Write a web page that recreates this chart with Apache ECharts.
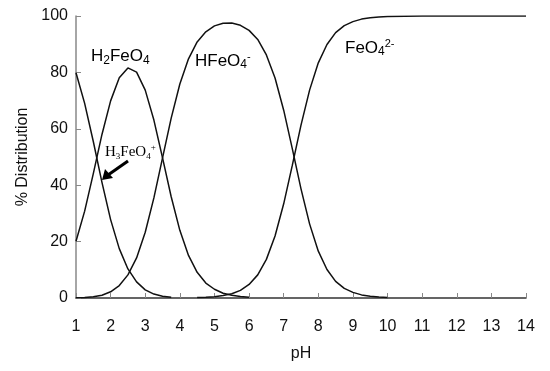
<!DOCTYPE html>
<html>
<head>
<meta charset="utf-8">
<script src="https://cdn.jsdelivr.net/npm/echarts@6/dist/echarts.min.js"></script>
<style>html,body{margin:0;padding:0;background:#fff}#c{width:550px;height:371px}</style>
</head>
<body>
<div id="c"></div>
<script>
// pH sampling points
var ph = [1,1.25,1.5,1.75,2,2.25,2.5,2.75,3,3.25,3.5,3.75,4,4.25,4.5,4.75,5,5.25,5.5,5.75,6,6.25,6.5,6.75,7,7.25,7.5,7.75,8,8.25,8.5,8.75,9,9.25,9.5,9.75,10,11,12,13,14];
// % distribution (null = not drawn)
var h3feo4 = [79.9,69.0,55.5,41.0,27.8,17.5,10.3,5.7,2.9,1.4,0.6,0.25,null,null,null,null,null,null,null,null,null,null,null,null,null,null,null,null,null,null,null,null,null,null,null,null,null,null,null,null,null];
var h2feo4 = [20.1,30.8,44.1,58.0,69.9,78.1,81.6,80.1,73.7,63.1,49.7,35.9,24.0,15.1,9.1,5.3,3.1,1.7,1.0,0.5,0.3,null,null,null,null,null,null,null,null,null,null,null,null,null,null,null,null,null,null,null,null];
var hfeo4 = [0.06,0.17,0.44,1.0,2.2,4.4,8.2,14.2,23.3,35.5,49.7,63.8,75.9,84.8,90.8,94.4,96.5,97.4,97.5,96.7,94.9,91.7,86.2,78.0,66.6,52.9,38.7,26.2,16.6,10.1,5.9,3.4,2.0,1.1,0.6,0.35,0.2,null,null,null,null];
var feo4 = [null,null,null,null,null,null,null,null,null,null,null,null,null,null,0.14,0.27,0.48,0.87,1.5,2.7,4.8,8.2,13.7,22.0,33.4,47.1,61.3,73.8,83.4,89.9,94.1,96.6,98.0,98.9,99.4,99.65,99.8,100,100,100,100];
var xTicks = [1,2,3,4,5,6,7,8,9,10,11,12,13,14];
var yTicks = [0,20,40,60,80,100];

function pairs(v){ return ph.map(function(x,i){ return [x, v[i]]; }); }

var chart = echarts.init(document.getElementById('c'), null, {renderer:'canvas'});
var FONT = 'Liberation Sans, Arial, sans-serif';
var lineStyle = {color:'#111', width:1.5};
function ser(name, v){
  return {name:name, type:'line', data:pairs(v), showSymbol:false, symbol:'none', connectNulls:false,
    lineStyle:lineStyle, itemStyle:{color:'#111'}, animation:false, z:3};
}
var richMain = {
  n:{fontSize:17, lineHeight:20, fontFamily:FONT, color:'#111', verticalAlign:'middle'},
  sub:{fontSize:12, lineHeight:15, fontFamily:FONT, color:'#111', verticalAlign:'bottom'},
  sup:{fontSize:11, lineHeight:10, fontFamily:FONT, color:'#111', verticalAlign:'top'}
};
var SERIF = 'Liberation Serif, Times New Roman, serif';
var richSerif = {
  n:{fontSize:15, lineHeight:18, fontFamily:SERIF, color:'#222', verticalAlign:'middle'},
  sub:{fontSize:9, lineHeight:8, fontFamily:SERIF, color:'#222', verticalAlign:'bottom'},
  sup:{fontSize:9, lineHeight:8, fontFamily:SERIF, color:'#222', verticalAlign:'top'}
};
chart.setOption({
  animation:false,
  backgroundColor:'#fff',
  grid:{left:76, right:24, top:16, bottom:73},
  xAxis:{type:'value', min:1, max:14, interval:1,
    name:'pH', nameLocation:'middle', nameGap:48,
    nameTextStyle:{fontSize:16, fontFamily:FONT, color:'#111'},
    axisLine:{lineStyle:{color:'#333', width:1.5}},
    axisTick:{inside:true, length:5, lineStyle:{color:'#888'}},
    axisLabel:{fontSize:16, fontFamily:FONT, color:'#111', margin:21,
      formatter:function(v){ return xTicks.indexOf(v)>=0 ? String(v) : ''; }},
    splitLine:{show:false}},
  yAxis:{type:'value', min:0, max:100, interval:20,
    name:'% Distribution', nameLocation:'middle', nameGap:38, nameRotate:90,
    nameTextStyle:{fontSize:16, fontFamily:FONT, color:'#111'},
    axisLine:{show:true, lineStyle:{color:'#888', width:1.5}},
    axisTick:{show:true, inside:true, length:5, lineStyle:{color:'#888'}},
    axisLabel:{fontSize:16, fontFamily:FONT, color:'#111', margin:8,
      formatter:function(v){ return yTicks.indexOf(v)>=0 ? String(v) : ''; }},
    splitLine:{show:false}},
  series:[ser('H3FeO4+',h3feo4), ser('H2FeO4',h2feo4), ser('HFeO4-',hfeo4), ser('FeO42-',feo4)],
  graphic:[
    {type:'text', left:91, top:48, z:10, style:{text:'{n|H}{sub|2}{n|FeO}{sub|4}', rich:richMain}},
    {type:'text', left:195, top:51, z:10, style:{text:'{n|HFeO}{sub|4}{sup|-}', rich:richMain}},
    {type:'text', left:345, top:38, z:10, style:{text:'{n|FeO}{sub|4}{sup|2-}', rich:richMain}},
    {type:'text', left:105, top:143, z:10, style:{text:'{n|H}{sub|3}{n|FeO}{sub|4}{sup|+}', rich:richSerif}},
    {type:'line', z:10, shape:{x1:128, y1:161, x2:108, y2:175}, style:{stroke:'#000', lineWidth:3}},
    {type:'polygon', z:10, shape:{points:[[102,180],[105,169],[113,178]]}, style:{fill:'#000'}}
  ]
});
</script>
</body>
</html>
